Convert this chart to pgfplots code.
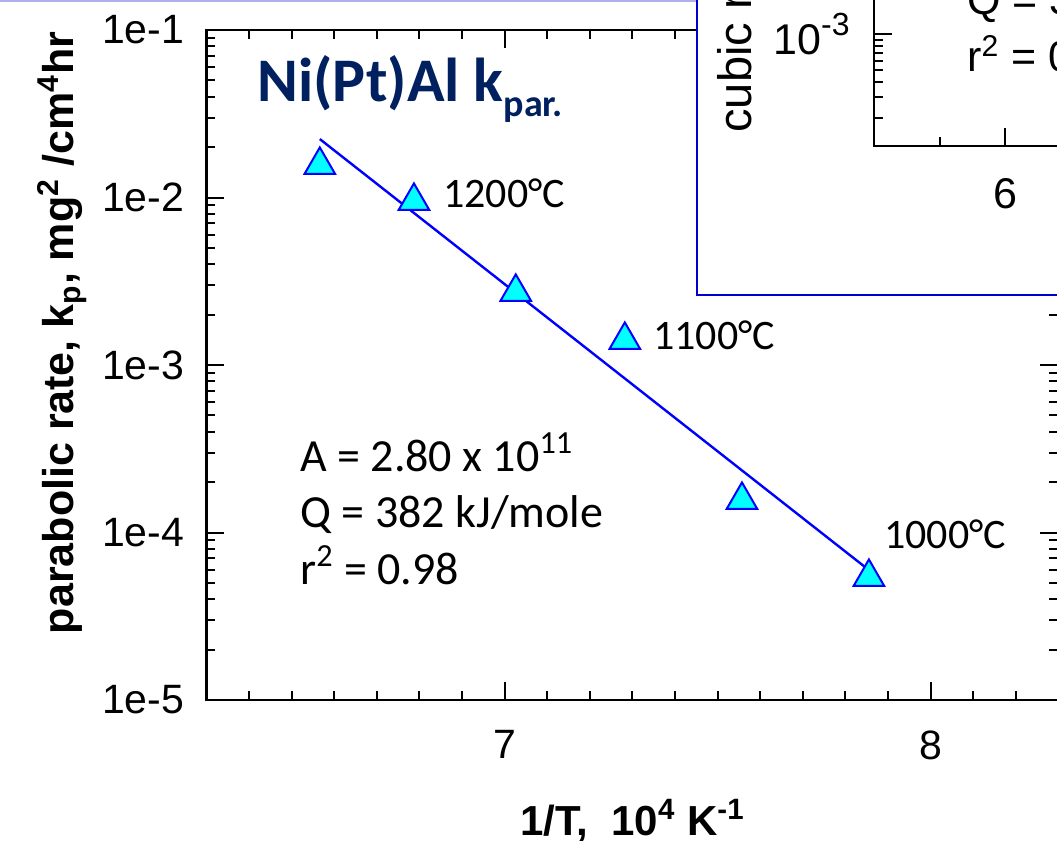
\documentclass[border=0pt]{standalone}
\usepackage{pgfplots}
\pgfplotsset{compat=1.18}
\usepackage{fontspec}
\setmainfont{Liberation Sans}
\newfontfamily\calibri{Carlito}
\definecolor{navy}{RGB}{0,32,96}
\definecolor{lav}{RGB}{176,176,240}
\definecolor{boxblue}{RGB}{0,0,204}
\definecolor{mk}{RGB}{0,255,255}
\definecolor{mkedge}{RGB}{0,0,255}
\newcommand{\sups}[1]{\raisebox{0.42em}{\fontsize{16}{16}\selectfont #1}}
\begin{document}
\begin{tikzpicture}
\begin{axis}[
  at={(0pt,0pt)}, anchor=south west,
  scale only axis, width=426pt, height=335pt,
  xmin=6.3, xmax=8.3, ymin=1e-5, ymax=1e-1, ymode=log,
  xtick={7,8}, xticklabels={7,8},
  minor xtick={6.4,6.5,6.6,6.7,6.8,6.9,7.1,7.2,7.3,7.4,7.5,7.6,7.7,7.8,7.9,8.1,8.2},
  ytick={1e-5,1e-4,1e-3,1e-2,1e-1},
  yticklabels={1e-5,1e-4,1e-3,1e-2,1e-1},
  minor ytick={2e-5,3e-5,4e-5,5e-5,6e-5,7e-5,8e-5,9e-5,
               2e-4,3e-4,4e-4,5e-4,6e-4,7e-4,8e-4,9e-4,
               2e-3,3e-3,4e-3,5e-3,6e-3,7e-3,8e-3,9e-3,
               2e-2,3e-2,4e-2,5e-2,6e-2,7e-2,8e-2,9e-2},
  tick align=inside,
  major tick length=9pt, minor tick length=4.5pt,
  every tick/.style={black, line width=1pt},
  axis line style={line width=1.2pt},
  ticklabel style={font=\fontsize{20.5}{24}\selectfont},
  xticklabel style={anchor=north, inner sep=0pt, yshift=-15pt},
  yticklabel style={anchor=east, inner sep=0pt, xshift=-11pt},
  xlabel={1/T,\ \ 10\textsuperscript{4} K\textsuperscript{-1}},
  ylabel={parabolic rate, k\textsubscript{p}, mg\textsuperscript{2} /cm\textsuperscript{4}hr},
  every axis x label/.style={at={(rel axis cs:0.5,-0.20149)}, anchor=base, inner sep=0pt, font=\bfseries\fontsize{21}{25}\selectfont},
  every axis y label/.style={at={(rel axis cs:-0.15552,0.54776)}, anchor=base, rotate=90, inner sep=0pt, font=\bfseries\fontsize{21.5}{25}\selectfont},
]
\addplot[mkedge, line width=1.2pt] coordinates {(6.566,0.02233) (7.846,6.22e-5)};
\addplot[only marks, mark=triangle*, mark size=8.8pt, mark options={fill=mk, draw=mkedge, line width=1pt}]
  coordinates {(6.566,0.01563) (6.787,0.00953) (7.026,0.00273) (7.282,0.00141) (7.557,1.563e-4) (7.855,5.42e-5)};
\end{axis}

\begin{scope}[x=0.5pt, y=-0.5pt, shift={(-103.25pt,350pt)}]
  \draw[lav, line width=1.5pt] (-10,1) -- (697,1);
  \draw[boxblue, line width=1pt, fill=white] (697,295) rectangle (1130,-40);
\end{scope}

\begin{axis}[
  at={(333.75pt,277pt)}, anchor=south west,
  scale only axis, width=163.75pt, height=98pt,
  xmin=5, xmax=7.5, ymode=log, ymin=1.167e-4, ymax=5.012e-3,
  xtick={6,7}, xticklabels={6,7}, minor xtick={5.5,6.5},
  ytick={1e-3,1e-2}, yticklabels={10\sups{-3},10\sups{-2}},
  minor ytick={2e-4,3e-4,4e-4,5e-4,6e-4,7e-4,8e-4,9e-4,2e-3,3e-3,4e-3,5e-3},
  tick align=inside,
  major tick length=9pt, minor tick length=4.5pt,
  every tick/.style={black, line width=1pt},
  axis line style={line width=1pt},
  ticklabel style={font=\fontsize{21.5}{25}\selectfont},
  xticklabel style={anchor=north, inner sep=0pt, yshift=-16pt},
  yticklabel style={anchor=east, inner sep=0pt, xshift=-12pt},
]
\end{axis}

\begin{scope}[x=0.5pt, y=-0.5pt, shift={(-103.25pt,350pt)}]
  \node[anchor=base west, inner sep=0pt, text=navy, font=\calibri\bfseries\fontsize{31}{31}\selectfont]
    at (257,102) {Ni(Pt)Al k{\fontsize{19}{19}\selectfont\raisebox{-7.5pt}{par.}}};
  \begin{scope}[every node/.style={anchor=base west, inner sep=0pt, font=\calibri\fontsize{21}{25}\selectfont}]
    \node at (443,208) {1200°C};
    \node at (653,350) {1100°C};
    \node at (884,549) {1000°C};
  \end{scope}
  \begin{scope}[every node/.style={anchor=base west, inner sep=0pt, font=\calibri\fontsize{23}{27}\selectfont}]
    \node at (300,472) {A = 2.80 x 10\textsuperscript{11}};
    \node at (300,528) {Q = 382 kJ/mole};
    \node at (300,585) {r\textsuperscript{2} = 0.98};
  \end{scope}
  \begin{scope}[every node/.style={anchor=base west, inner sep=0pt, font=\fontsize{21.5}{25}\selectfont}]
    \node at (967,15) {Q = 38};
    \node at (967,72) {r\textsuperscript{2} = 0.9};
  \end{scope}
  \node[rotate=90, anchor=base west, inner sep=0pt, font=\fontsize{23.5}{27}\selectfont] at (752,133) {cubic rate};
  \pgfresetboundingbox
  \path[use as bounding box] (0,0) rectangle (1057,841);
\end{scope}
\end{tikzpicture}
\end{document}
